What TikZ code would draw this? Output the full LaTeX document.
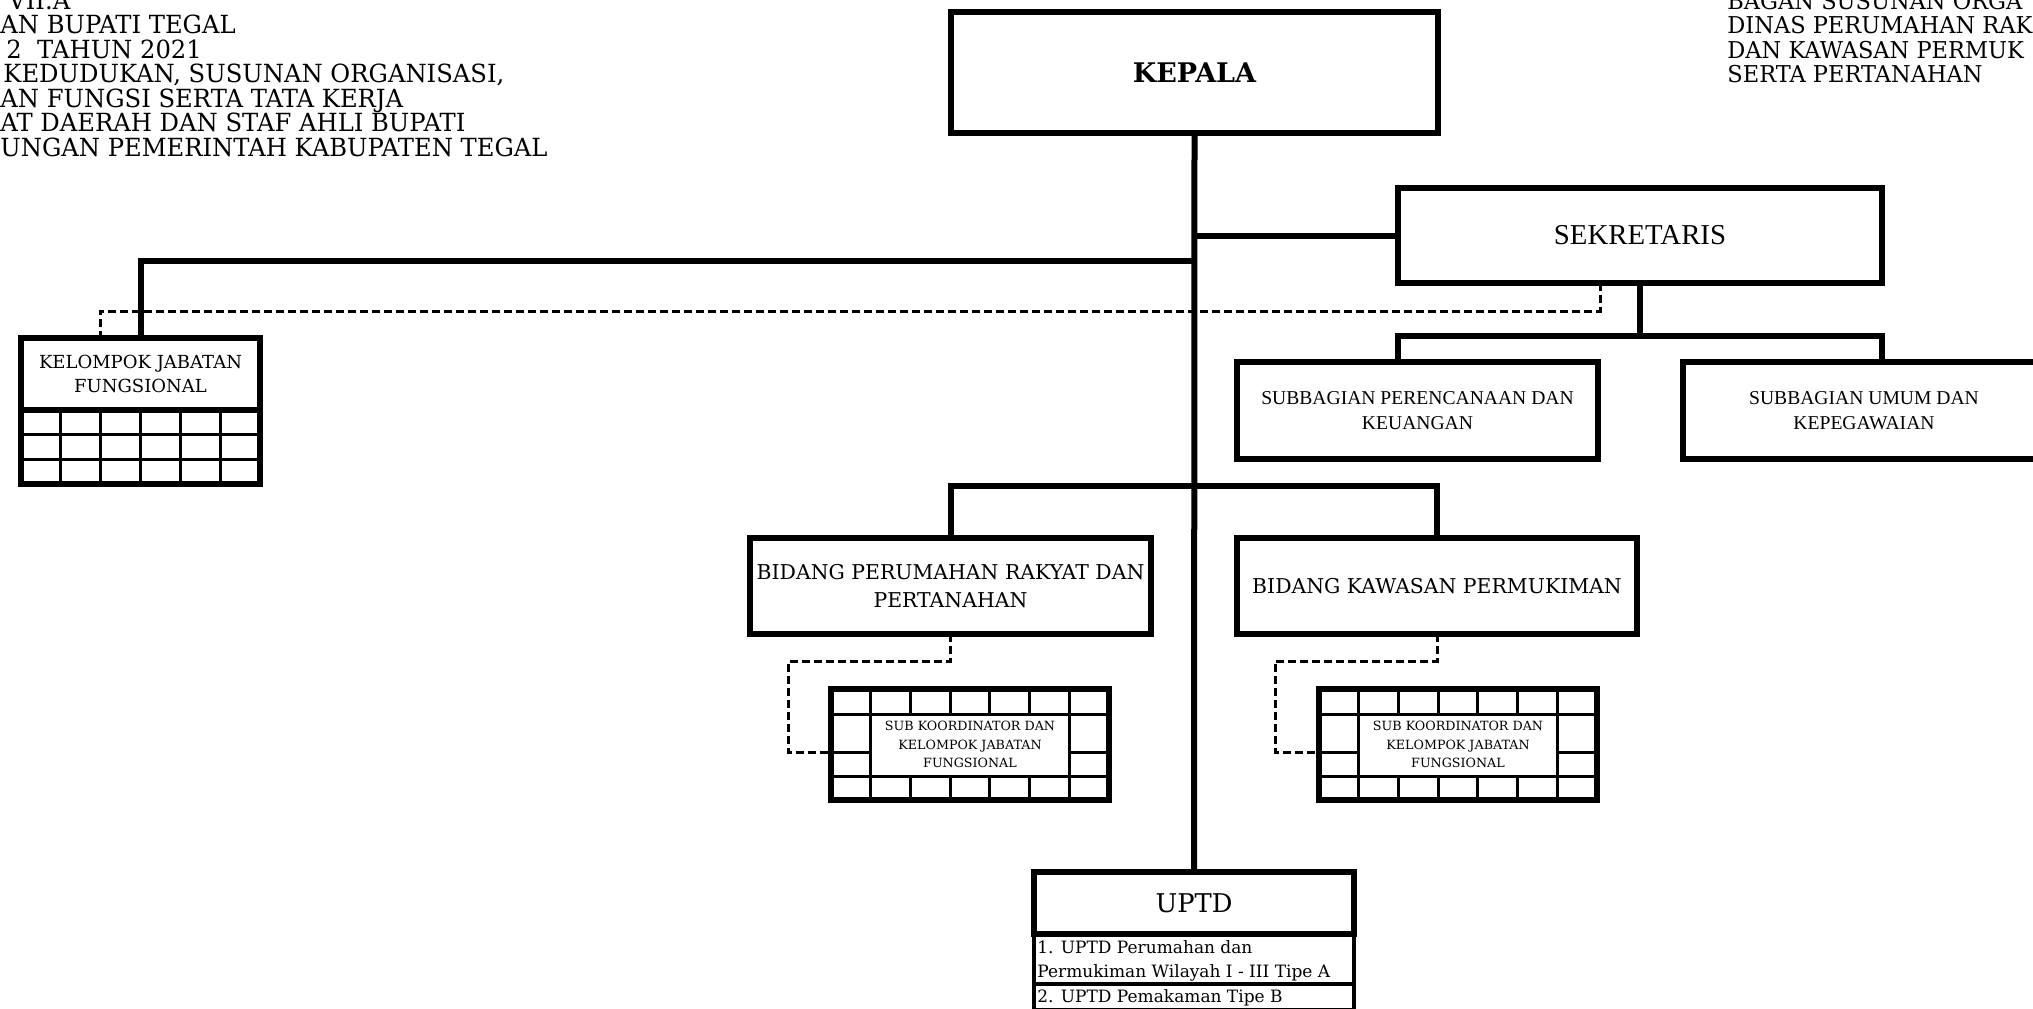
\documentclass[tikz,border=0pt]{standalone}
\usepackage{fontspec}
\newfontfamily\libser{Liberation Serif}
\newfontfamily\bk{DejaVu Serif}
\newfontfamily\bkh[FakeStretch=0.97]{DejaVu Serif}
\begin{document}
\begin{tikzpicture}[x=0.5pt,y=-0.5pt,
  box/.style={draw, line width=3pt, rectangle, outer sep=0pt, inner sep=2pt, align=center},
  rowbox/.style={draw, line width=2pt, rectangle, outer sep=0pt, inner sep=0pt},
  rowtxt/.style={anchor=base west, inner sep=0pt, font={\bk\fontsize{8.5}{8.5}\selectfont}},
  conn/.style={line width=3pt},
  dconn/.style={line width=1.5pt, dash pattern=on 4pt off 2pt},
  gridl/.style={line width=1.5pt},
  hdr/.style={anchor=base west, inner sep=0pt, font={\bkh\fontsize{12.5}{12.5}\selectfont}},
  hdrr/.style={anchor=base west, inner sep=0pt, font={\bkh\fontsize{11.6}{11.6}\selectfont}},
]
\useasboundingbox (0,0) rectangle (2033,1008);
\fill[white] (0,0) rectangle (2033,1008);

% header texts
\node[hdr] (h1) at (8,9) {VII.A};
\node[hdr] (h2) at (0,33.5) {AN BUPATI TEGAL};
\node[hdr] (h3) at (6,58) {2\ \ TAHUN 2021};
\node[hdr] (h4) at (3,82.5) {KEDUDUKAN, SUSUNAN ORGANISASI,};
\node[hdr] (h5) at (0,107) {AN FUNGSI SERTA TATA KERJA};
\node[hdr] (h6) at (0,131.5) {AT DAERAH DAN STAF AHLI BUPATI};
\node[hdr] (h7) at (0,156) {UNGAN PEMERINTAH KABUPATEN TEGAL};
\node[hdrr] (r1) at (1727,9) {BAGAN SUSUNAN ORGA};
\node[hdrr] (r2) at (1727,33.5) {DINAS PERUMAHAN RAK};
\node[hdrr] (r3) at (1727,58) {DAN KAWASAN PERMUK};
\node[hdrr] (r4) at (1727,82.5) {SERTA PERTANAHAN};

% boxes
\node[box, minimum width=243.5pt, minimum height=60.5pt, font={\bk\bfseries\fontsize{13.5}{13.5}\selectfont}] (kepala) at (1194.5,72.5) {KEPALA};
\node[box, minimum width=242pt, minimum height=47.5pt, font={\libser\fontsize{14.4}{14.4}\selectfont}] (sek) at (1640,235.5) {SEKRETARIS};
\node[box, minimum width=180.5pt, minimum height=48.5pt, font={\libser\fontsize{9.8}{12.3}\selectfont}] (subper) at (1417.5,410.5) {SUBBAGIAN PERENCANAAN DAN\\KEUANGAN};
\node[box, minimum width=181pt, minimum height=48.5pt, font={\libser\fontsize{9.8}{12.3}\selectfont}] (subumum) at (1864,410.5) {SUBBAGIAN UMUM DAN\\KEPEGAWAIAN};
\node[box, minimum width=119.5pt, minimum height=36pt, font={\bk\fontsize{9}{12.3}\selectfont}] (kjf) at (140.5,374) {KELOMPOK JABATAN\\FUNGSIONAL};
\node[box, minimum width=200.5pt, minimum height=48pt, font={\bk\fontsize{10.2}{13.6}\selectfont}] (bidpr) at (950.5,586) {BIDANG PERUMAHAN RAKYAT DAN\\PERTANAHAN};
\node[box, minimum width=200pt, minimum height=48pt, font={\bk\fontsize{10.2}{13.6}\selectfont}] (bidkp) at (1437,586) {BIDANG KAWASAN PERMUKIMAN};
\node[box, minimum width=139pt, minimum height=55.5pt, font={\bk\fontsize{6.35}{9.1}\selectfont}] (skjf1) at (970,744.5) {SUB KOORDINATOR DAN\\KELOMPOK JABATAN\\FUNGSIONAL};
\node[box, minimum width=139pt, minimum height=55.5pt, font={\bk\fontsize{6.35}{9.1}\selectfont}] (skjf2) at (1458,744.5) {SUB KOORDINATOR DAN\\KELOMPOK JABATAN\\FUNGSIONAL};
\node[box, minimum width=160pt, minimum height=31pt, font={\bk\fontsize{12.9}{12.9}\selectfont}] (uptd) at (1194,903) {UPTD};
\node[rowbox, minimum width=160pt, minimum height=25pt] (u1) at (1194,959) {};
\node[rowbox, minimum width=160pt, minimum height=13pt] (u2) at (1194,997) {};
\node[rowtxt] (t1) at (1037,953) {1. UPTD Perumahan dan};
\node[rowtxt] (t2) at (1037,977.5) {Permukiman Wilayah I - III Tipe A};
\node[rowtxt] (t3) at (1037,1002) {2. UPTD Pemakaman Tipe B};

% KJF grid
\begin{scope}[shift={(kjf.south west)}]
  \foreach \k in {1,...,5} \draw[gridl] (\k*39.833,0) -- (\k*39.833,74);
  \draw[gridl] (0,24.667) -- (239,24.667);
  \draw[gridl] (0,49.333) -- (239,49.333);
\end{scope}
\draw[conn] (kjf.south west) rectangle ([yshift=-37pt]kjf.south east);

% SKJF grids
\foreach \n in {skjf1,skjf2}{
  \begin{scope}[shift={(\n.north west)}]
    \draw[gridl] (0,25) -- (278,25);
    \draw[gridl] (0,87) -- (278,87);
    \draw[gridl] (0,63) -- (39.71,63);
    \draw[gridl] (238.29,63) -- (278,63);
    \draw[gridl] (39.71,0) -- (39.71,111);
    \draw[gridl] (238.29,0) -- (238.29,111);
    \foreach \k in {2,...,5}{
      \draw[gridl] (\k*39.71,0) -- (\k*39.71,25);
      \draw[gridl] (\k*39.71,87) -- (\k*39.71,111);
    }
  \end{scope}
}

% connectors
\coordinate (ljy) at (0,261);
\coordinate (bjy) at (0,486);
\coordinate (sjy) at (0,336);
\draw[conn] (kepala.south) -- (uptd.north);
\draw[conn] (kepala.south |- sek.west) -- (sek.west);
\draw[conn] (kepala.south |- ljy) -- (kjf.north |- ljy) -- (kjf.north);
\draw[conn] (bidpr.north) -- (bidpr.north |- bjy) -- (bidkp.north |- bjy) -- (bidkp.north);
\draw[conn] (sek.south) -- (sek.south |- sjy);
\draw[conn] (sek.west |- subper.north) -- (sek.west |- sjy) -- (sek.east |- sjy) -- (sek.east |- subumum.north);

% dashed connectors
\coordinate (dsx) at (1600,0);
\coordinate (dsy) at (0,311);
\coordinate (dkx) at (100,0);
\draw[dconn] (dsx |- sek.south) -- (dsx |- dsy) -- (dkx |- dsy) -- (dkx |- kjf.north);
\coordinate (d1y) at (0,661);
\coordinate (dmy) at (0,752);
\coordinate (d1x) at (788,0);
\coordinate (d2x) at (1275,0);
\draw[dconn] (bidpr.south) -- (bidpr.south |- d1y) -- (d1x |- d1y) -- (d1x |- dmy) -- (skjf1.west |- dmy);
\draw[dconn] (bidkp.south) -- (bidkp.south |- d1y) -- (d2x |- d1y) -- (d2x |- dmy) -- (skjf2.west |- dmy);
\end{tikzpicture}
\end{document}
